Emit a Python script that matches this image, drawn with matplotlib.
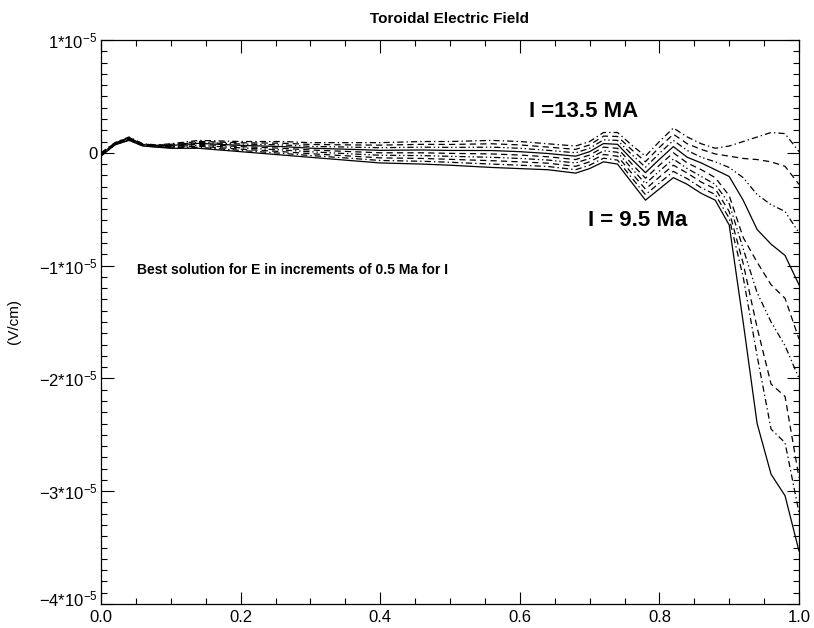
import matplotlib
matplotlib.use('Agg')
import matplotlib.pyplot as plt
from matplotlib.ticker import MultipleLocator, FixedLocator, FuncFormatter
from matplotlib.transforms import ScaledTranslation

plt.rcParams['font.family'] = ['Liberation Sans', 'DejaVu Sans']
plt.rcParams['lines.scale_dashes'] = False
plt.rcParams['mathtext.default'] = 'regular'

# normalized radius
x = [0.00, 0.02, 0.04, 0.06, 0.08, 0.10, 0.14, 0.20, 0.26, 0.30, 0.36, 0.40,
     0.46, 0.50, 0.56, 0.60, 0.64, 0.68, 0.70, 0.72, 0.74, 0.76, 0.78, 0.80,
     0.82, 0.84, 0.86, 0.88, 0.90, 0.92, 0.94, 0.96, 0.98, 1.00]

# toroidal electric field, units of 1e-5 V/cm
E_9p5 = [-0.030, 0.070, 0.110, 0.060, 0.050, 0.040, 0.040, 0.010, -0.020, -0.040, -0.070, -0.090,
         -0.100, -0.110, -0.130, -0.140, -0.150, -0.180, -0.140, -0.080, -0.100, -0.260, -0.420, -0.320,
         -0.220, -0.28, -0.36, -0.42, -0.64, -1.50, -2.40, -2.85, -3.04, -3.53]
E_10p0 = [-0.026, 0.072, 0.114, 0.062, 0.052, 0.045, 0.049, 0.021, -0.005, -0.024, -0.050, -0.068,
          -0.075, -0.084, -0.100, -0.110, -0.121, -0.150, -0.110, -0.048, -0.065, -0.219, -0.371, -0.268,
          -0.165, -0.23, -0.31, -0.37, -0.58, -1.10, -1.80, -2.45, -2.57, -3.19]
E_10p5 = [-0.022, 0.075, 0.118, 0.065, 0.055, 0.050, 0.058, 0.032, 0.010, -0.008, -0.030, -0.045,
          -0.050, -0.058, -0.070, -0.080, -0.092, -0.120, -0.080, -0.015, -0.030, -0.178, -0.322, -0.215,
          -0.110, -0.18, -0.26, -0.32, -0.52, -0.98, -1.55, -2.05, -2.16, -2.88]
E_11p0 = [-0.019, 0.078, 0.121, 0.068, 0.058, 0.055, 0.066, 0.044, 0.025, 0.009, -0.010, -0.022,
          -0.025, -0.031, -0.040, -0.050, -0.064, -0.090, -0.050, 0.018, 0.005, -0.136, -0.274, -0.162,
          -0.055, -0.14, -0.21, -0.28, -0.45, -0.85, -1.24, -1.50, -1.71, -2.00]
E_11p5 = [-0.015, 0.080, 0.125, 0.070, 0.060, 0.060, 0.075, 0.055, 0.040, 0.025, 0.010, 0.000,
          0.000, -0.005, -0.010, -0.020, -0.035, -0.060, -0.020, 0.050, 0.040, -0.095, -0.225, -0.110,
          0.000, -0.09, -0.15, -0.22, -0.38, -0.75, -0.97, -1.17, -1.29, -1.65]
E_12p0 = [-0.011, 0.082, 0.129, 0.072, 0.062, 0.065, 0.084, 0.066, 0.055, 0.041, 0.030, 0.022,
          0.025, 0.021, 0.020, 0.010, -0.006, -0.030, 0.010, 0.082, 0.075, -0.054, -0.176, -0.058,
          0.055, -0.04, -0.09, -0.15, -0.21, -0.42, -0.68, -0.81, -0.91, -1.17]
E_12p5 = [-0.008, 0.085, 0.132, 0.075, 0.065, 0.070, 0.092, 0.078, 0.070, 0.057, 0.050, 0.045,
          0.050, 0.048, 0.050, 0.040, 0.022, 0.000, 0.040, 0.115, 0.110, -0.012, -0.128, -0.005,
          0.110, 0.02, -0.04, -0.08, -0.13, -0.22, -0.37, -0.46, -0.52, -0.71]
E_13p0 = [-0.004, 0.088, 0.136, 0.078, 0.068, 0.075, 0.101, 0.089, 0.085, 0.074, 0.070, 0.068,
          0.075, 0.074, 0.080, 0.070, 0.051, 0.030, 0.070, 0.148, 0.145, 0.029, -0.079, 0.048,
          0.165, 0.08, 0.03, -0.01, -0.03, -0.05, -0.06, -0.08, -0.12, -0.28]
E_13p5 = [0.000, 0.090, 0.140, 0.080, 0.070, 0.080, 0.110, 0.100, 0.100, 0.090, 0.090, 0.090,
          0.100, 0.100, 0.110, 0.100, 0.080, 0.060, 0.100, 0.180, 0.180, 0.070, -0.030, 0.100,
          0.220, 0.14, 0.08, 0.04, 0.06, 0.10, 0.14, 0.18, 0.17, 0.01]

currents = [9.5, 10.0, 10.5, 11.0, 11.5, 12.0, 12.5, 13.0, 13.5]
series = [E_9p5, E_10p0, E_10p5, E_11p0, E_11p5, E_12p0, E_12p5, E_13p0, E_13p5]

y_ticks = [-4, -3, -2, -1, 0, 1]
x_ticks = [0.0, 0.2, 0.4, 0.6, 0.8, 1.0]

solid = '-'
dashed = (0, (4.5, 3.0))
dashdot = (0, (4.5, 2.2, 1.0, 2.2))
dashdotdot = (0, (4.5, 2.0, 1.0, 2.0, 1.0, 2.0))
styles = [solid, dashdot, dashed, dashdotdot, dashed, solid, dashdotdot, dashed, dashdot]

fig = plt.figure(figsize=(8.14, 6.28), dpi=100)
ax = fig.add_axes([101/814, 1 - 604/628, 698/814, 564/628])

for cur, yv, ls in zip(currents, series, styles):
    ax.plot(x, yv, color='black', lw=0.9, linestyle=ls)

ax.set_xlim(0, 1)
ax.set_ylim(-4, 1)
ax.xaxis.set_major_locator(FixedLocator(x_ticks))
ax.xaxis.set_minor_locator(MultipleLocator(0.05))
ax.yaxis.set_major_locator(FixedLocator(y_ticks))
ax.yaxis.set_minor_locator(MultipleLocator(0.1))
ax.xaxis.set_major_formatter(FuncFormatter(lambda v, p: '%.1f' % v))

def yfmt(v, p):
    iv = int(round(v))
    if iv == 0:
        return '0'
    return r'$%d{*}10^{-5}$' % iv

ax.yaxis.set_major_formatter(FuncFormatter(yfmt))
ax.tick_params(which='both', direction='in', top=True, right=True, labelsize=12, width=0.8)
ax.tick_params(which='major', length=9)
ax.tick_params(axis='x', which='major', pad=4)
ax.tick_params(axis='y', which='major', pad=2.5)
ax.tick_params(which='minor', length=4.5)
for s in ax.spines.values():
    s.set_linewidth(0.9)

# lift the lowest y label slightly, as in the reference
fig.canvas.draw()
for tick in ax.yaxis.get_major_ticks():
    if abs(tick.get_loc() - (-4)) < 1e-9:
        lbl = tick.label1
        lbl.set_transform(lbl.get_transform() + ScaledTranslation(0, 4/72, fig.dpi_scale_trans))

ax.set_title('Toroidal Electric Field', fontsize=11, fontweight='bold', pad=12)
ax.set_ylabel('(V/cm)', fontsize=11)
ax.yaxis.set_label_coords(-0.115, 0.5)

ax.text(0.613, 0.37, 'I =13.5 MA', fontsize=16, fontweight='bold', va='center', ha='left')
ax.text(0.697, -0.60, 'I = 9.5 Ma', fontsize=16, fontweight='bold', va='center', ha='left')
ax.text(0.052, -1.035, 'Best solution for E in increments of 0.5 Ma for I', fontsize=10,
        fontweight='bold', va='center', ha='left')

fig.savefig('out.png', dpi=100)
